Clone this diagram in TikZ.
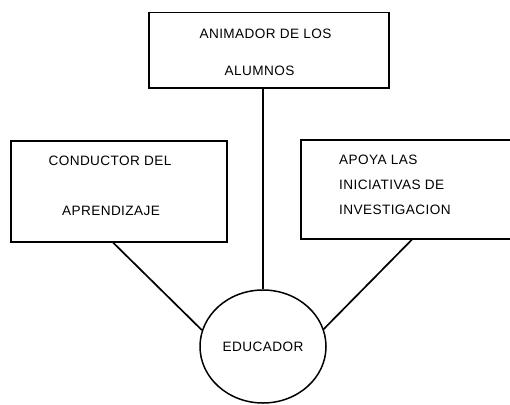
\documentclass[tikz,border=0pt]{standalone}
\usepackage{fontspec}
\setmainfont{Liberation Sans}[LetterSpace=3]
\usetikzlibrary{shapes.geometric}
\tikzset{
  boxshape/.style={draw, line width=1.5pt, anchor=north west, inner sep=0pt},
  lbl/.style={font=\fontsize{13.6}{15}\selectfont, anchor=base, inner sep=0pt},
  lbll/.style={font=\fontsize{13.6}{15}\selectfont, anchor=base west, inner sep=0pt},
  hub/.style={draw, ellipse, line width=1.5pt, minimum width=126pt, minimum height=113pt, inner sep=0pt, font=\fontsize{13.6}{15}\selectfont},
  link/.style={line width=1.7pt}
}
\begin{document}
\begin{tikzpicture}[x=1pt,y=-1pt]
\useasboundingbox (0,0) rectangle (510,404);
% boxes
\node[boxshape, minimum width=240pt, minimum height=75pt] (anim) at (148,12) {};
\node[boxshape, minimum width=216pt, minimum height=101pt] (cond) at (10,140) {};
\node[boxshape, minimum width=215pt, minimum height=99pt] (apoya) at (300,139) {};
% texts
\node[lbl] (anim1) at (265.5,38.5) {ANIMADOR DE LOS};
\node[lbl] (anim2) at (259.5,75) {ALUMNOS};
\node[lbl] (cond1) at (110,165.5) {CONDUCTOR DEL};
\node[lbl] (cond2) at (111,215) {APRENDIZAJE};
\node[lbll] (apoya1) at (339,164.5) {APOYA LAS};
\node[lbll] (apoya2) at (339,189.5) {INICIATIVAS DE};
\node[lbll] (apoya3) at (339,214.5) {INVESTIGACION};
% hub
\node[hub] (edu) at (263,346.5) {EDUCADOR};
% connectors
\draw[link] (anim.south -| edu.north) -- (edu.north);
\draw[link] ([xshift=103pt]cond.south west) -- (edu.165);
\draw[link] ([xshift=112pt]apoya.south west) -- (edu.16);
\end{tikzpicture}
\end{document}
